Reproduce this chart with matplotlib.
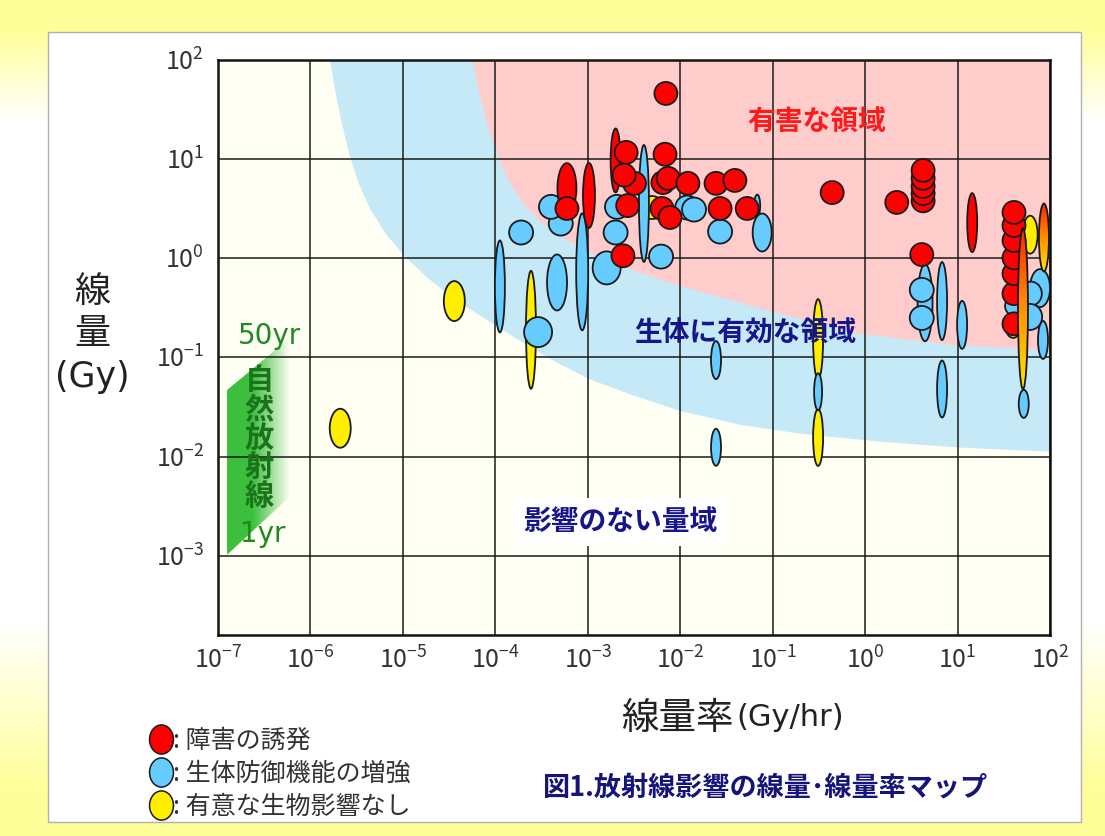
import numpy as np
import matplotlib
matplotlib.use("Agg")
import matplotlib.pyplot as plt
import matplotlib.transforms as mtransforms
from matplotlib.collections import EllipseCollection
from matplotlib.patches import Ellipse, Polygon, Rectangle
from matplotlib.colors import LinearSegmentedColormap, to_rgb
from matplotlib.image import AxesImage
from matplotlib.lines import Line2D
from matplotlib.path import Path

plt.rcParams['font.family'] = ['Noto Sans CJK JP', 'DejaVu Sans']
plt.rcParams['mathtext.fontset'] = 'dejavusans'

W, H = 1105, 836

# ---------------- data : dose rate (Gy/hr), dose (Gy) ----------------
# 障害の誘発
red_rate = [5.95e-4, 1.03e-3, 5.95e-4, 2.0e-3, 3.2e-3, 2.6e-3, 2.47e-3, 2.7e-3,
            2.4e-3, 7.0e-3, 6.85e-3, 6.5e-3, 7.4e-3, 1.21e-2, 2.44e-2, 3.9e-2,
            6.35e-3, 7.75e-3, 2.7e-2, 5.3e-2, 0.44, 2.2,
            4.24, 4.24, 4.24, 4.24, 4.24, 4.1, 14.4,
            40.8, 40.8, 40.8, 40.8, 40.8, 40.8, 40.8]
red_dose = [5.1, 4.3, 3.18, 9.7, 5.7, 11.7, 6.9, 3.4,
            1.06, 46, 11.2, 5.8, 6.4, 5.7, 5.7, 6.1,
            3.18, 2.58, 3.18, 3.18, 4.6, 3.66,
            3.8, 4.5, 5.3, 6.4, 7.7, 1.09, 2.29,
            0.218, 0.44, 0.70, 1.01, 1.51, 2.14, 2.9]
# 生体防御機能の増強
blue_rate = [1.12e-4, 1.9e-4, 2.9e-4, 5.1e-4, 4.0e-4, 4.65e-4, 8.7e-4, 1.6e-3,
             2.0e-3, 2.07e-3, 4.05e-3, 6.2e-3, 1.19e-2, 1.41e-2, 2.7e-2, 6.8e-2,
             7.7e-2, 2.44e-2, 2.44e-2, 0.31, 4.45, 6.8, 4.1, 4.1,
             11.2, 6.8, 52, 84, 78, 62, 61, 41.9]
blue_dose = [0.52, 1.82, 0.18, 2.24, 3.3, 0.57, 0.73, 0.80,
             1.82, 3.3, 3.57, 1.04, 3.25, 3.1, 1.86, 3.4,
             1.82, 0.094, 0.0124, 0.045, 0.356, 0.37, 0.48, 0.25,
             0.213, 0.048, 0.034, 0.15, 0.50, 0.44, 0.256, 0.33]
# 有意な生物影響なし
yellow_rate = [2.1e-6, 3.6e-5, 2.43e-4, 4.95e-3, 0.31, 0.31, 61, 40]
yellow_dose = [0.0193, 0.37, 0.19, 3.25, 0.153, 0.0156, 1.73, 0.194]
# 障害～影響なし の幅を持つデータ
mixed_rate = [86, 51]
mixed_dose = [1.62, 0.309]

# marker sizes (pixels)
red_w = [19, 12, 23, 10, 23, 23, 23, 23, 23, 23, 23, 23, 23, 23, 23, 23,
         23, 23, 23, 23, 23, 23, 23, 23, 23, 23, 23, 23, 10,
         23, 23, 23, 23, 23, 23, 23]
red_h = [50, 65, 23, 64, 23, 23, 23, 23, 23, 23, 23, 23, 23, 23, 23, 23,
         23, 23, 23, 23, 23, 23, 23, 23, 23, 23, 23, 23, 59,
         23, 23, 23, 23, 23, 23, 23]
blue_w = [10, 24, 28, 24, 24, 20, 12, 28, 24, 24, 10, 24, 24, 24, 24, 6,
          19, 10, 10, 8, 15, 10, 24, 24, 10, 10, 10, 10, 20, 22, 24, 20]
blue_h = [92, 24, 30, 24, 24, 56, 117, 33, 24, 24, 117, 24, 24, 24, 24, 22,
          38, 38, 37, 37, 77, 78, 24, 24, 48, 57, 28, 38, 38, 24, 26, 20]
yellow_w = [21, 21, 10, 23, 10, 10, 15, 14]
yellow_h = [39, 40, 118, 23, 80, 57, 38, 18]
mixed_w = [10, 10]
mixed_h = [68, 161]

# region boundaries (log10 dose rate, log10 dose)
effective_lograte = [-5.79, -5.73, -5.66, -5.58, -5.48, -5.35, -5.18, -4.97,
                     -4.73, -4.45, -4.11, -3.74, -3.36, -2.98, -2.55, -2.00,
                     -1.35, -0.70, 0.16, 1.03, 2.0]
effective_logdose = [2.0, 1.68, 1.36, 1.05, 0.76, 0.49, 0.24, 0.01,
                     -0.20, -0.41, -0.61, -0.83, -1.04, -1.22, -1.37, -1.54,
                     -1.68, -1.77, -1.85, -1.91, -1.95]
harmful_lograte = [-4.24, -4.18, -4.10, -4.00, -3.87, -3.71, -3.51, -3.24,
                   -2.92, -2.54, -2.11, -1.57, -0.92, -0.06, 0.92, 2.0]
harmful_logdose = [2.0, 1.70, 1.39, 1.09, 0.81, 0.56, 0.37, 0.19,
                   0.03, -0.11, -0.25, -0.39, -0.56, -0.76, -0.87, -0.93]

# natural radiation band (1yr .. 50yr)
natural_rate = [1.25e-7, 1.25e-7, 6.0e-7, 6.0e-7]
natural_dose = [1.02e-3, 0.0468, 0.157, 3.95e-3]

x_exponents = list(range(-7, 3))
y_exponents = list(range(-3, 3))

legend_labels = [': 障害の誘発', ': 生体防御機能の増強', ': 有意な生物影響なし']

RED, BLUE, YELLOW = '#ff0000', '#66ccff', '#ffee00'
EDGE = '#1a1a1a'


def fxy(x, y):
    """pixel position (from top-left) -> figure fraction"""
    return x / W, 1 - y / H


fig = plt.figure(figsize=(W / 100, H / 100), dpi=100)

# background : yellow at top and bottom, white in the middle
bg = fig.add_axes([0, 0, 1, 1], zorder=-10)
yy = np.arange(H)
k = np.clip((120 - yy) / 90, 0, 1) + np.clip((yy - 620) / 170, 0, 1)
k = np.clip(k, 0, 1)[:, None, None]
grad = (1 - k) * np.array(to_rgb('#ffffff')) + k * np.array(to_rgb('#ffff99'))
bg.imshow(np.repeat(grad, 2, axis=1), aspect='auto', extent=(0, 1, 0, 1))
bg.axis('off')
bg.add_patch(Rectangle((48 / W, 1 - 822 / H), 1033 / W, 790 / H,
                       transform=fig.transFigure, fc='white', ec='#b0b0b0', lw=1))

ax = fig.add_axes([218 / W, 1 - 635 / H, 832 / W, 575 / H])
ax.set_xscale('log')
ax.set_yscale('log')
ax.set_xlim(1e-7, 1e2)
ax.set_ylim(10 ** -3.8, 1e2)
ax.set_facecolor('#fffff4')
ax.set_autoscale_on(False)

# regions
er = 10.0 ** np.array(effective_lograte)
ed = 10.0 ** np.array(effective_logdose)
ax.fill(np.r_[er, 1e2], np.r_[ed, 1e2], color='#c5e9f7', lw=0, zorder=0.5)
hr = 10.0 ** np.array(harmful_lograte)
hd = 10.0 ** np.array(harmful_logdose)
ax.fill(np.r_[hr, 1e2], np.r_[hd, 1e2], color='#ffcccc', lw=0, zorder=0.6)

# natural radiation band with horizontal fade
fig.canvas.draw()
band = Polygon(np.column_stack([natural_rate, natural_dose]), closed=True,
               fc='none', ec='none', transform=ax.transData)
ax.add_patch(band)
p0 = ax.transData.transform((natural_rate[0], natural_dose[0]))
p1 = ax.transData.transform((natural_rate[2], natural_dose[2]))
g = np.zeros((1, 100, 4))
g[..., :3] = to_rgb('#3cbf3c')
g[..., 3] = np.clip((100 - np.arange(100)) / 60, 0, 1)
im = AxesImage(ax, extent=(0, 1, 0, 1), interpolation='bilinear')
im.set_data(g)
im.set_transform(mtransforms.Affine2D().scale(p1[0] - p0[0], p1[1] - p0[1])
                 .translate(p0[0], p0[1]))
ax.add_image(im)
im.set_clip_path(band)
im.set_zorder(0.8)

# grid
ax.set_xticks([10.0 ** e for e in x_exponents])
ax.set_xticklabels([r'$\mathregular{10^{%d}}$' % e for e in x_exponents])
ax.set_yticks([10.0 ** e for e in y_exponents])
ax.set_yticklabels([r'$\mathregular{10^{%d}}$' % e for e in y_exponents])
ax.minorticks_off()
ax.tick_params(length=0, labelsize=18, labelcolor='#333333')
ax.tick_params(axis='x', pad=9)
ax.tick_params(axis='y', pad=10)
ax.grid(True, color='#1a1a1a', lw=1.1)
ax.set_axisbelow(False)
for s in ax.spines.values():
    s.set_linewidth(1.8)
    s.set_color('#111111')


def add_ellipses(rate, dose, w, h, color, z):
    ec = EllipseCollection(w, h, np.zeros(len(w)), units='dots',
                           offsets=np.column_stack([rate, dose]),
                           offset_transform=ax.transData,
                           facecolors=color, edgecolors=EDGE, linewidths=1.3,
                           zorder=z)
    ax.add_collection(ec, autolim=False)


add_ellipses(yellow_rate, yellow_dose, yellow_w, yellow_h, YELLOW, 3)
add_ellipses(blue_rate, blue_dose, blue_w, blue_h, BLUE, 4)
add_ellipses(red_rate, red_dose, red_w, red_h, RED, 5)

# red -> yellow gradient ellipses
hot = LinearSegmentedColormap.from_list('hot2', ['#ffe600', '#ff9000', '#ff2a00'])
for r, d, w, h in zip(mixed_rate, mixed_dose, mixed_w, mixed_h):
    tr = mtransforms.Affine2D().scale(w, h) + mtransforms.ScaledTranslation(r, d, ax.transData)
    ell = Ellipse((0, 0), 1, 1, transform=tr, fc='none', ec=EDGE, lw=1.3, zorder=7)
    gi = AxesImage(ax, cmap=hot, extent=(-0.5, 0.5, -0.5, 0.5), origin='lower',
                   interpolation='bilinear')
    gi.set_data(np.linspace(0, 1, 64).reshape(-1, 1))
    gi.set_transform(tr)
    ax.add_image(gi)
    gi.set_zorder(6)
    ax.add_patch(ell)
    gi.set_clip_path(ell)

# region labels
ax.text(*fxy(817, 122), '有害な領域', transform=fig.transFigure, ha='center',
        va='center', fontsize=20, color='#ff1a1a', fontweight='bold', zorder=8)
ax.text(*fxy(745, 334), '生体に有効な領域', transform=fig.transFigure, ha='center',
        va='center', fontsize=20, color='#16168a', fontweight='bold', zorder=8)
ax.text(*fxy(621, 522), '影響のない量域', transform=fig.transFigure, ha='center',
        va='center', fontsize=20, color='#16168a', fontweight='bold', zorder=8,
        bbox=dict(boxstyle='square,pad=0.35', fc='white', ec='none'))

# natural radiation labels
ax.text(*fxy(270, 336), '50yr', transform=fig.transFigure, ha='center', va='center',
        fontsize=20, color='#1f8a1f', family=['DejaVu Sans'], zorder=8)
ax.text(*fxy(263, 534), '1yr', transform=fig.transFigure, ha='center', va='center',
        fontsize=20, color='#1f8a1f', family=['DejaVu Sans'], zorder=8)
for i, ch in enumerate('自然放射線'):
    ax.text(*fxy(259, 380 + i * 29), ch, transform=fig.transFigure, ha='center',
            va='center', fontsize=21, color='#1a751a', fontweight='bold', zorder=8)

# axis titles
fig.text(*fxy(92, 292), '線', ha='center', va='center', fontsize=26, color='#222222')
fig.text(*fxy(92, 334), '量', ha='center', va='center', fontsize=26, color='#222222')
fig.text(*fxy(92, 377), '(Gy)', ha='center', va='center', fontsize=25, color='#222222',
         family=['DejaVu Sans'])
fig.text(*fxy(734, 718), '線量率', ha='right', va='center', fontsize=27, color='#222222')
fig.text(*fxy(736, 718), '(Gy/hr)', ha='left', va='center', fontsize=22, color='#222222',
         family=['DejaVu Sans'])

# legend
oval = Path(Path.unit_circle().vertices * [0.82, 1.0], Path.unit_circle().codes)
handles = [Line2D([], [], ls='none', marker=oval, markersize=21, mfc=c,
                  mec=EDGE, mew=1.1) for c in (RED, BLUE, YELLOW)]
leg = fig.legend(handles, legend_labels, loc='upper left',
                 bbox_to_anchor=fxy(153, 728), frameon=False, fontsize=18,
                 handlelength=0.65, handletextpad=0.15, labelspacing=0.27,
                 borderaxespad=0, borderpad=0)
for t in leg.get_texts():
    t.set_color('#333333')

fig.text(*fxy(766, 787), '図1.放射線影響の線量･線量率マップ', ha='center', va='center',
         fontsize=19.5, color='#14147a', fontweight='bold')

fig.savefig('out.png', dpi=100)
